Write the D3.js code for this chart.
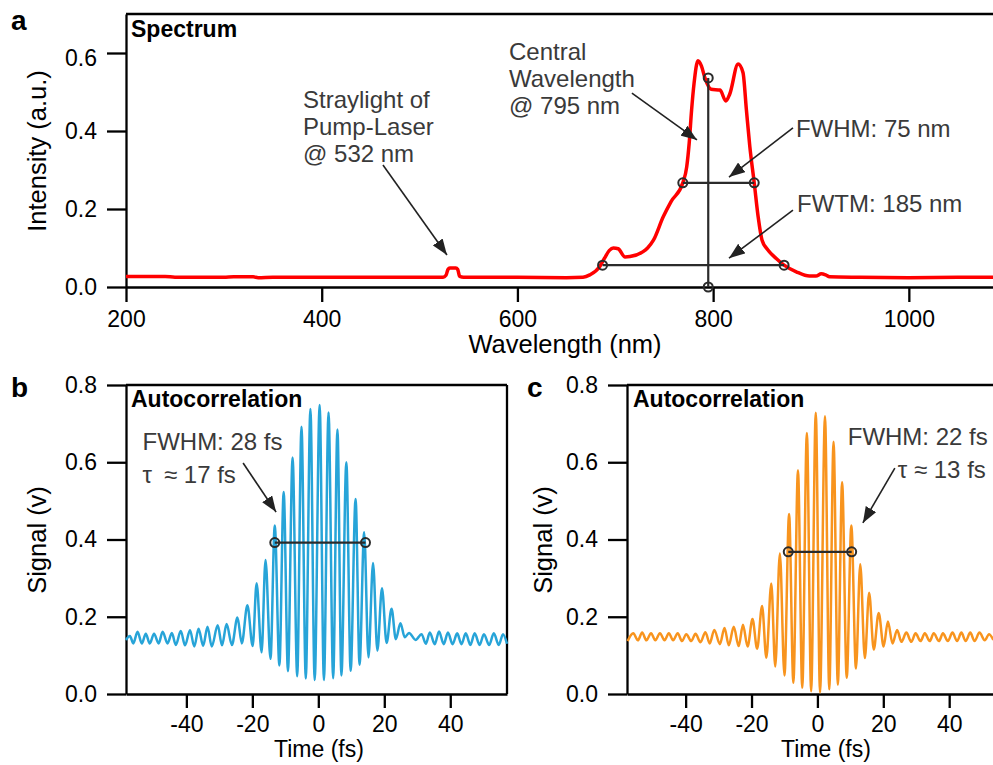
<!DOCTYPE html>
<html>
<head>
<meta charset="utf-8">
<script src="https://cdn.jsdelivr.net/npm/d3@7"></script>
<style>
  body { margin: 0; background: #fff; }
  svg { font-family: "Liberation Sans", Arial, sans-serif; }
</style>
</head>
<body>
<svg id="chart" width="993" height="765"></svg>
<script>
// spectrum (panel a)
const specWl = [200, 215, 240, 250, 300, 310, 330, 335, 350, 380, 400, 450, 500, 524, 527, 529, 531, 537, 539, 541,
  545, 600, 650, 667, 674, 684, 689, 694, 698, 703, 710, 715, 728, 733, 739, 749, 757, 769, 773, 775.5,
  778, 780.5, 784.5, 788, 791.5, 798, 807, 813, 817, 825.5, 830.5, 834, 837.5, 842, 846, 850, 856, 864.5, 872.5, 885,
  898.5, 905, 910.5, 915, 919, 950, 1000, 1050, 1090]
const specInt = [0.027, 0.027, 0.027, 0.025, 0.025, 0.026, 0.026, 0.024, 0.025, 0.025, 0.025, 0.025, 0.025, 0.025, 0.030, 0.045, 0.049, 0.049, 0.045, 0.027,
  0.025, 0.025, 0.024, 0.025, 0.031, 0.052, 0.074, 0.094, 0.100, 0.098, 0.077, 0.078, 0.090, 0.100, 0.120, 0.180, 0.219, 0.267, 0.308, 0.368,
  0.454, 0.522, 0.580, 0.567, 0.537, 0.507, 0.505, 0.477, 0.495, 0.572, 0.550, 0.454, 0.360, 0.267, 0.180, 0.120, 0.095, 0.073, 0.056, 0.039,
  0.028, 0.028, 0.034, 0.031, 0.026, 0.025, 0.024, 0.025, 0.025]

// autocorrelation b (fringe peaks and troughs)
const acBTime = [-58.3, -57.1, -56.1, -54.8, -53.5, -52.3, -51.1, -49.8, -48.4, -47.2, -45.7, -44.4, -43.2, -41.7, -40.4, -38.9, -37.6, -36.3, -34.9, -33.6,
  -32.3, -30.5, -29.2, -27.8, -26.2, -24.5, -23.2, -21.5, -19.9, -18.7, -17.2, -16.0, -14.5, -13.2, -11.8, -10.5, -9.2, -7.8, -6.4, -5.1,
  -3.8, -2.4, -1.1, 0.4, 1.7, 3.1, 4.5, 5.8, 7.0, 8.5, 9.8, 11.3, 12.5, 13.9, 15.2, 16.6, 17.9, 19.3, 20.7, 22.2,
  23.5, 24.9, 26.2, 27.5, 29.5, 31.3, 32.6, 33.8, 35.3, 36.6, 38.0, 39.3, 40.7, 42.1, 43.4, 44.7, 46.1, 47.4, 48.9, 50.2,
  51.8, 53.2, 54.7, 56.0, 57.2]
const acBSignal = [0.140, 0.150, 0.131, 0.161, 0.131, 0.156, 0.131, 0.156, 0.131, 0.161, 0.131, 0.158, 0.127, 0.163, 0.126, 0.165, 0.123, 0.169, 0.125, 0.174,
  0.123, 0.178, 0.126, 0.181, 0.127, 0.198, 0.131, 0.230, 0.124, 0.287, 0.108, 0.347, 0.091, 0.436, 0.074, 0.523, 0.059, 0.612, 0.046, 0.692,
  0.040, 0.738, 0.036, 0.748, 0.036, 0.729, 0.041, 0.685, 0.048, 0.600, 0.060, 0.505, 0.076, 0.419, 0.095, 0.339, 0.112, 0.274, 0.132, 0.221,
  0.142, 0.183, 0.147, 0.158, 0.140, 0.155, 0.130, 0.159, 0.129, 0.162, 0.129, 0.159, 0.129, 0.157, 0.129, 0.157, 0.127, 0.157, 0.127, 0.155,
  0.127, 0.157, 0.127, 0.155, 0.130]

// autocorrelation c
const acCTime = [-57.6, -55.9, -54.5, -53.2, -51.9, -50.5, -49.2, -47.8, -46.4, -45.1, -43.8, -42.4, -41.1, -39.8, -38.3, -37.0, -35.5, -34.0, -32.7, -31.3,
  -29.6, -28.2, -26.9, -25.4, -23.9, -22.6, -21.2, -19.7, -18.3, -16.8, -15.5, -14.0, -12.8, -11.4, -10.0, -8.6, -7.3, -5.9, -4.6, -3.2,
  -1.9, -0.5, 0.8, 2.3, 3.6, 4.9, 6.2, 7.5, 8.9, 10.3, 11.7, 13.0, 14.4, 15.7, 17.1, 18.6, 20.1, 21.4, 22.8, 24.2,
  25.5, 27.0, 28.5, 29.8, 31.3, 32.6, 34.1, 35.3, 36.9, 38.1, 39.6, 41.0, 42.4, 43.7, 45.0, 46.4, 47.7, 49.2, 50.8, 52.1, 53.4]
const acCSignal = [0.137, 0.157, 0.139, 0.159, 0.139, 0.157, 0.139, 0.157, 0.139, 0.157, 0.139, 0.157, 0.137, 0.155, 0.137, 0.156, 0.134, 0.160, 0.131, 0.166,
  0.129, 0.171, 0.126, 0.174, 0.124, 0.179, 0.123, 0.194, 0.117, 0.228, 0.094, 0.286, 0.071, 0.364, 0.048, 0.466, 0.029, 0.579, 0.016, 0.676,
  0.007, 0.728, 0.004, 0.719, 0.012, 0.653, 0.024, 0.548, 0.042, 0.436, 0.066, 0.336, 0.093, 0.262, 0.115, 0.210, 0.123, 0.188, 0.131, 0.166,
  0.135, 0.159, 0.135, 0.157, 0.137, 0.157, 0.137, 0.157, 0.137, 0.157, 0.137, 0.159, 0.137, 0.159, 0.137, 0.159, 0.137, 0.159, 0.139, 0.155, 0.140]

const wlTicks = [200, 400, 600, 800, 1000]
const intTicks = [0, 0.2, 0.4, 0.6]
const timeTicks = [-40, -20, 0, 20, 40]
const sigTicks = [0, 0.2, 0.4, 0.6, 0.8]

// markers
const centralWl = 795, centralTop = 0.536
const fwhmA = [769, 842, 0.267]
const fwtmA = [687, 872.5, 0.056]
const fwhmB = [-13.2, 14.3, 0.392]
const fwhmC = [-8.85, 10.4, 0.368]

const svg = d3.select('#chart')
const ink = '#3a3a3a'
const font = '"Liberation Sans", Arial, sans-serif'

svg.append('defs').append('marker')
  .attr('id', 'arrow')
  .attr('viewBox', '0 0 16 12')
  .attr('refX', 16).attr('refY', 6)
  .attr('markerWidth', 16).attr('markerHeight', 12)
  .attr('markerUnits', 'userSpaceOnUse')
  .attr('orient', 'auto')
  .append('path').attr('d', 'M0,0L16,6L0,12Z').attr('fill', '#222')

const styleAxis = g => {
  g.attr('font-family', font).attr('font-size', 23)
  g.selectAll('.domain, .tick line').attr('stroke', '#000').attr('stroke-width', 2.3)
  g.selectAll('.tick text').attr('fill', '#000')
}

// x axis + y axis + frame lines for one panel
const drawFrame = (x, y, xTicks, yTicks, xFmt, yFmt, xTickLen, xPad, showRight) => {
  const [x0, x1] = x.range()
  const [y0, y1] = y.range()
  svg.append('g')
    .attr('transform', `translate(0,${y0})`)
    .call(d3.axisBottom(x).tickValues(xTicks).tickFormat(xFmt).tickSize(xTickLen).tickPadding(xPad).tickSizeOuter(0))
    .call(styleAxis)
  const ga = svg.append('g')
    .attr('transform', `translate(${x0},0)`)
    .call(d3.axisLeft(y).tickValues(yTicks).tickFormat(yFmt).tickSize(19).tickPadding(10).tickSizeOuter(0))
    .call(styleAxis)
  svg.append('line').attr('x1', x0).attr('x2', x1).attr('y1', y1).attr('y2', y1)
    .attr('stroke', '#000').attr('stroke-width', 2.3)
  if (showRight) {
    svg.append('line').attr('x1', x1).attr('x2', x1).attr('y1', y1).attr('y2', y0)
      .attr('stroke', '#000').attr('stroke-width', 2.3)
  }
  return ga
}

const arrow = (x, y, [ax, ay, bx, by]) => svg.append('line')
  .attr('x1', x(ax)).attr('y1', y(ay)).attr('x2', x(bx)).attr('y2', y(by))
  .attr('stroke', '#222').attr('stroke-width', 1.6).attr('marker-end', 'url(#arrow)')

const bar = (x, y, [a, b, v]) => {
  svg.append('line').attr('x1', x(a)).attr('x2', x(b)).attr('y1', y(v)).attr('y2', y(v))
    .attr('stroke', '#2b2b2b').attr('stroke-width', 2.2)
  svg.selectAll(null).data([a, b]).enter().append('circle')
    .attr('cx', d => x(d)).attr('cy', y(v)).attr('r', 4.5)
    .attr('fill', 'none').attr('stroke', '#2b2b2b').attr('stroke-width', 2)
}

const note = (x, y, tx, ty, lines, size = 24) => {
  const t = svg.append('text').attr('x', x(tx)).attr('y', y(ty))
    .attr('font-size', size).attr('fill', ink)
  lines.forEach((s, i) => t.append('tspan').attr('x', x(tx)).attr('dy', i ? 27 : 0).text(s))
}

const label = (px, py, s, size, weight) => svg.append('text')
  .attr('x', px).attr('y', py).attr('font-size', size).attr('font-weight', weight).attr('fill', '#000').text(s)

const yTitle = (px, py, s) => svg.append('text')
  .attr('transform', `translate(${px},${py}) rotate(-90)`)
  .attr('text-anchor', 'middle').attr('font-size', 25.5).attr('fill', '#000').text(s)

const fmt1 = d3.format('.1f')
const fmtT = d => String(d)

// ---------- panel a ----------
const xA = d3.scaleLinear().domain([200, 1086]).range([126, 993])
const yA = d3.scaleLinear().domain([0, 0.7]).range([287, 14])
const gA = drawFrame(xA, yA, wlTicks, intTicks, fmtT, fmt1, 15, 9, false)
gA.selectAll('.tick text').filter(d => d === 0.6).attr('dy', '0.54em')

const specLine = d3.line().x(d => xA(d[0])).y(d => yA(d[1])).curve(d3.curveMonotoneX)
svg.append('path').datum(d3.zip(specWl, specInt))
  .attr('d', specLine).attr('fill', 'none').attr('stroke', '#ff0000').attr('stroke-width', 3.5)

svg.append('line').attr('x1', xA(centralWl)).attr('x2', xA(centralWl)).attr('y1', yA(centralTop)).attr('y2', yA(0))
  .attr('stroke', '#2b2b2b').attr('stroke-width', 2.2)
svg.selectAll(null).data([centralTop, 0]).enter().append('circle')
  .attr('cx', xA(centralWl)).attr('cy', d => yA(d)).attr('r', 4.5)
  .attr('fill', 'none').attr('stroke', '#2b2b2b').attr('stroke-width', 2)
bar(xA, yA, fwhmA)
bar(xA, yA, fwtmA)

arrow(xA, yA, [462.6, 0.313, 528, 0.082])
arrow(xA, yA, [717, 0.497, 783.5, 0.377])
arrow(xA, yA, [881.6, 0.408, 816.2, 0.282])
arrow(xA, yA, [881.6, 0.197, 816.2, 0.074])
note(xA, yA, 380.9, 0.459, ['Straylight of', 'Pump-Laser', '@ 532 nm'])
note(xA, yA, 591.4, 0.582, ['Central', 'Wavelength', '@ 795 nm'])
note(xA, yA, 884.6, 0.385, ['FWHM: 75 nm'])
note(xA, yA, 885.7, 0.192, ['FWTM: 185 nm'])

label(131, 37, 'Spectrum', 23, 'bold')
label(11, 30, 'a', 28, 'bold')
yTitle(46, 151, 'Intensity (a.u.)')
svg.append('text').attr('x', 565).attr('y', 353).attr('text-anchor', 'middle')
  .attr('font-size', 25.5).attr('fill', '#000').text('Wavelength (nm)')

// ---------- panel b ----------
const xB = d3.scaleLinear().domain([-58.3, 57.2]).range([126, 507])
const yB = d3.scaleLinear().domain([0, 0.8]).range([694, 385])
drawFrame(xB, yB, timeTicks, sigTicks, fmtT, fmt1, 14, 8, true)

const acLine = (x, y) => d3.line().x(d => x(d[0])).y(d => y(d[1])).curve(d3.curveMonotoneX)
svg.append('path').datum(d3.zip(acBTime, acBSignal))
  .attr('d', acLine(xB, yB)).attr('fill', 'none').attr('stroke', '#27a4d8').attr('stroke-width', 2.5)
bar(xB, yB, fwhmB)
arrow(xB, yB, [-22.8, 0.598, -12.8, 0.471])
note(xB, yB, -53.3, 0.632, ['FWHM: 28 fs'])
note(xB, yB, -53.3, 0.546, ['τ\u2002≈ 17 fs'])

label(131, 407, 'Autocorrelation', 23, 'bold')
label(11, 397, 'b', 28, 'bold')
yTitle(46, 540, 'Signal (v)')
svg.append('text').attr('x', 319).attr('y', 757).attr('text-anchor', 'middle')
  .attr('font-size', 23).attr('fill', '#000').text('Time (fs)')

// ---------- panel c ----------
const xC = d3.scaleLinear().domain([-57.8, 53.3]).range([627, 993])
const yC = d3.scaleLinear().domain([0, 0.8]).range([694, 385])
drawFrame(xC, yC, timeTicks, sigTicks, fmtT, fmt1, 14, 8, false)

svg.append('path').datum(d3.zip(acCTime, acCSignal))
  .attr('d', acLine(xC, yC)).attr('fill', 'none').attr('stroke', '#f8941e').attr('stroke-width', 2.5)
bar(xC, yC, fwhmC)
arrow(xC, yC, [23.5, 0.585, 13.8, 0.443])
note(xC, yC, 9.2, 0.645, ['FWHM: 22 fs'])
note(xC, yC, 24.4, 0.559, ['τ ≈ 13 fs'])

label(633, 407, 'Autocorrelation', 23, 'bold')
label(527, 397, 'c', 28, 'bold')
yTitle(552, 540, 'Signal (v)')
svg.append('text').attr('x', 826).attr('y', 757).attr('text-anchor', 'middle')
  .attr('font-size', 23).attr('fill', '#000').text('Time (fs)')
</script>
</body>
</html>
